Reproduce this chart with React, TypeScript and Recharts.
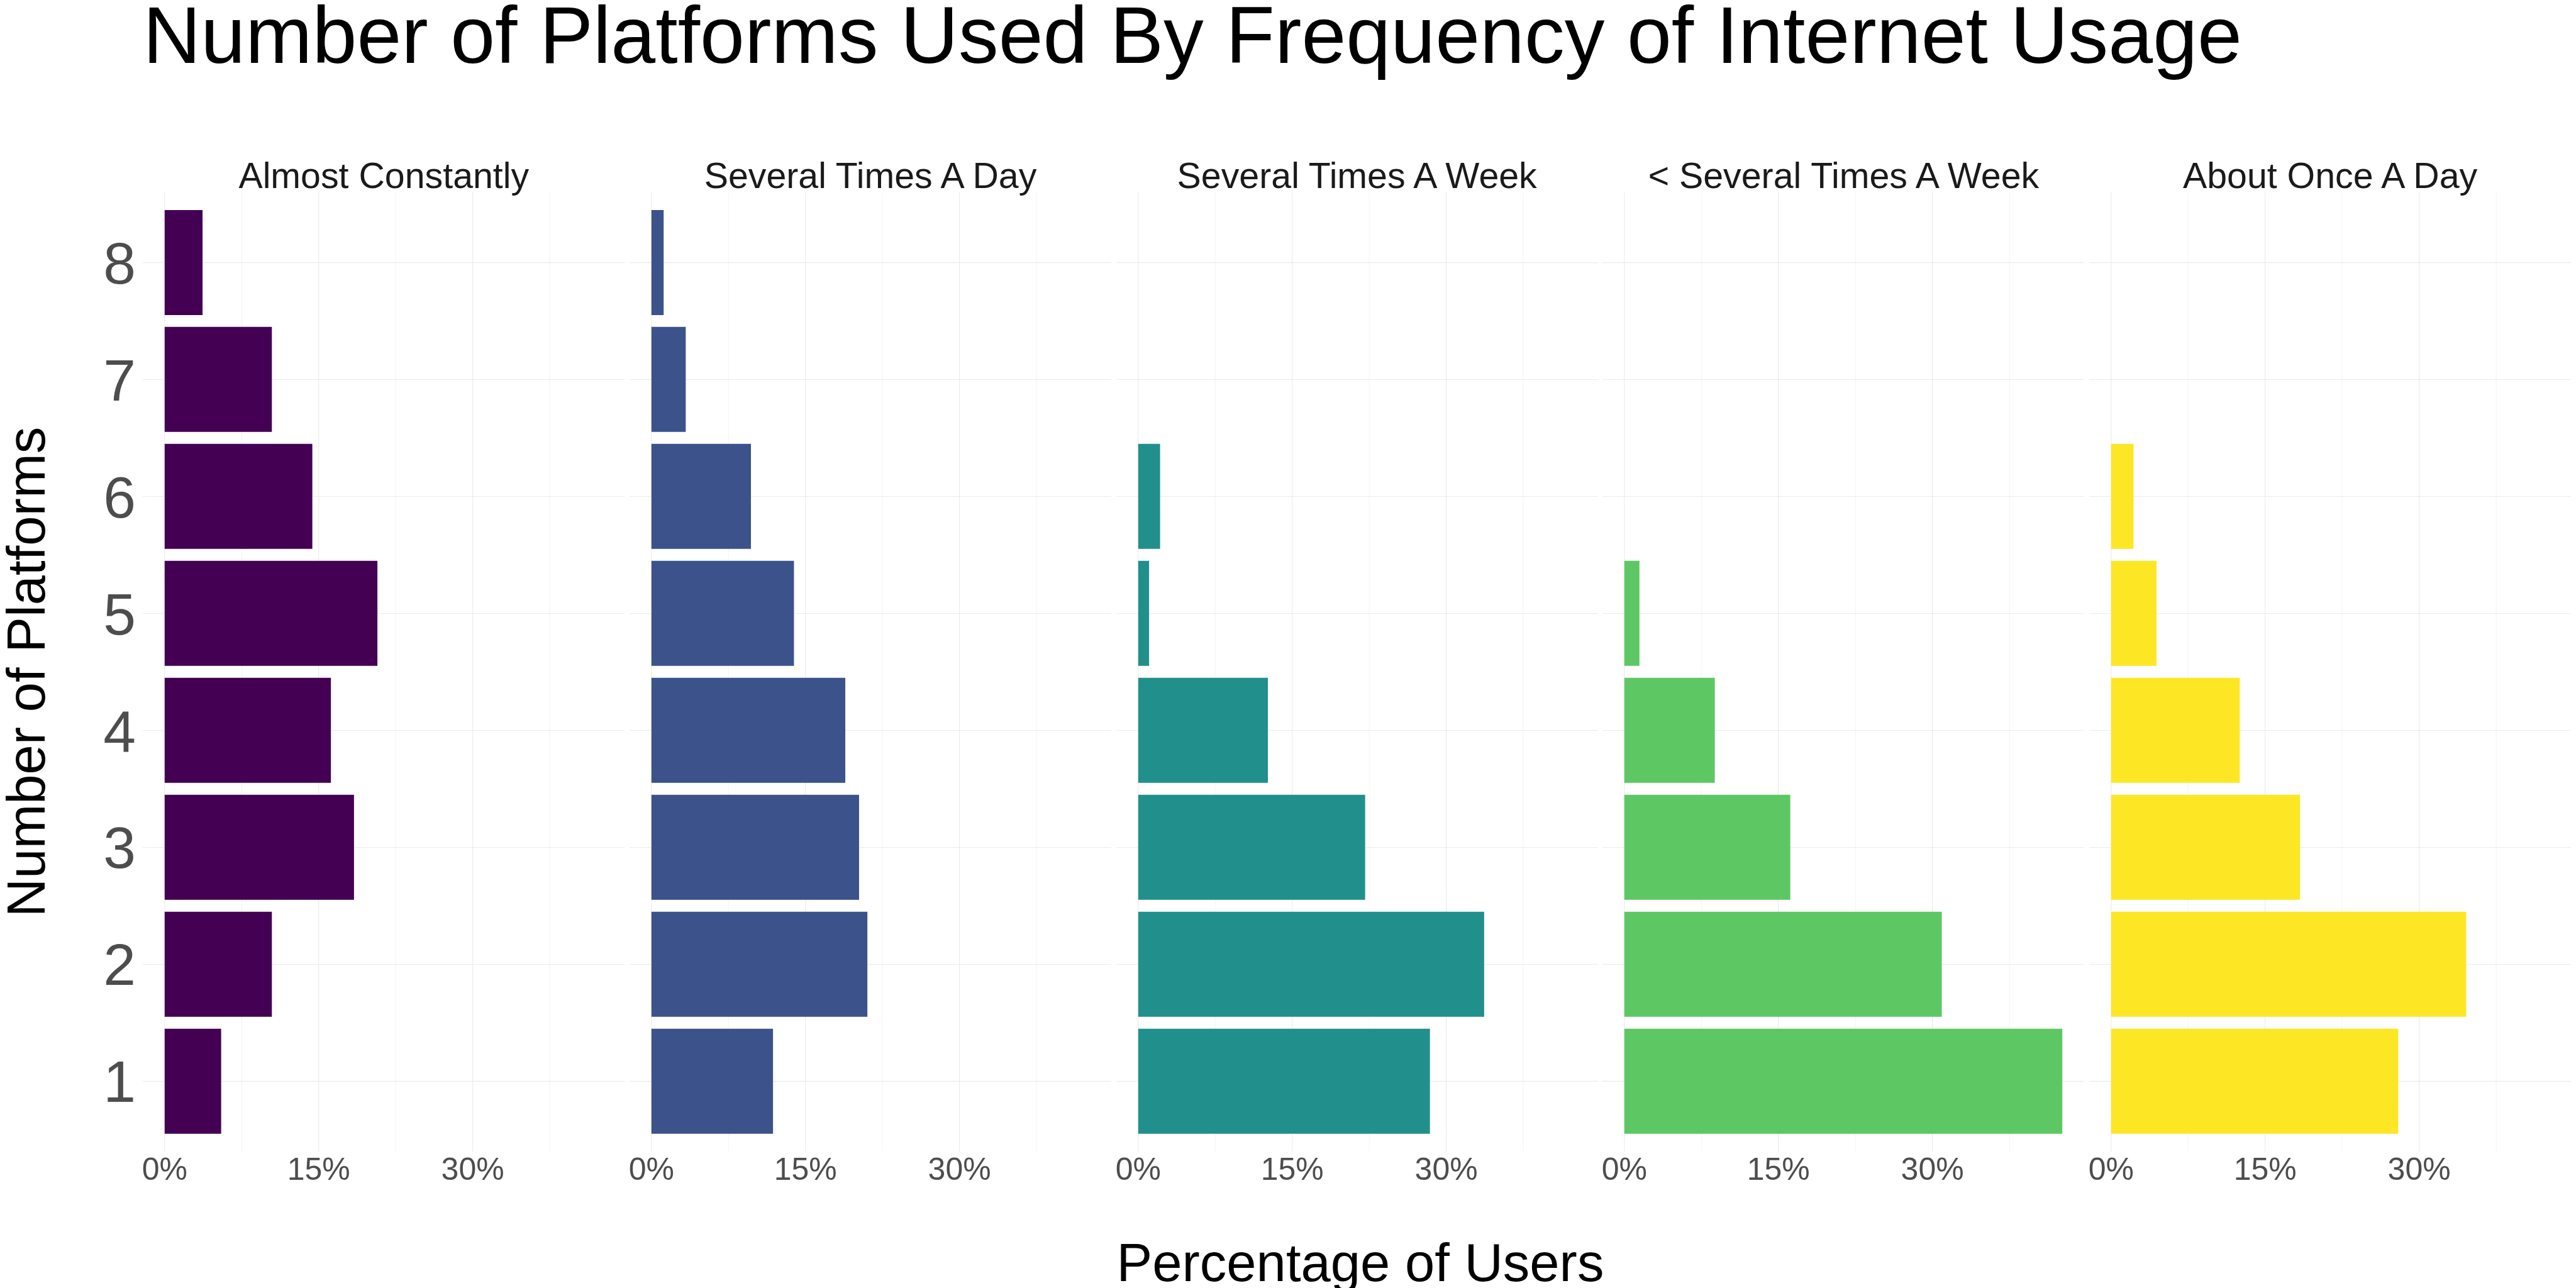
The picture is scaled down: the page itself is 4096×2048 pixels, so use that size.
import React from "react";
import { BarChart, Bar, XAxis, YAxis, CartesianGrid } from "recharts";

// number of platforms (category axis), bottom to top
const platforms = ["1", "2", "3", "4", "5", "6", "7", "8"];

const frequencies = [
  "Almost Constantly",
  "Several Times A Day",
  "Several Times A Week",
  "< Several Times A Week",
  "About Once A Day",
];

// share of users, in the order of `platforms`
const almostConstantly = [0.055, 0.1044, 0.1844, 0.1619, 0.2072, 0.1438, 0.1044, 0.0369];
const severalADay = [0.1184, 0.2103, 0.2022, 0.1888, 0.1388, 0.0969, 0.0334, 0.0119];
const severalAWeek = [0.2841, 0.3369, 0.221, 0.1263, 0.0106, 0.0213, null, null];
const lessThanWeekly = [0.4265, 0.3091, 0.1616, 0.0881, 0.0147, null, null, null];
const onceADay = [0.2796, 0.3458, 0.184, 0.1253, 0.0442, 0.0218, null, null];

const series = [almostConstantly, severalADay, severalAWeek, lessThanWeekly, onceADay];

const colors = ["#440154", "#3B528B", "#21908C", "#5DC863", "#FDE725"];

const xTicks = [0, 0.15, 0.3];
const minorTicks = [0.075, 0.225, 0.375];

const FONT = "'Liberation Sans', Arial, Helvetica, sans-serif";
const GRID = "#EBEBEB";

const PANEL_TOP = 306;
const PANEL_H = 1525;
const PANEL_W = 766;
const PANEL_LEFT = 227.3;
const PANEL_STEP = 773.7;
const X_AXIS_H = 80;
const Y_AXIS_W = 200;

// ggplot-style expansion: 5% on the continuous axis, 0.6 units on the discrete one
const allValues = series.flat().filter((v): v is number => v != null);
const maxVal = Math.max(...allValues);
const xDomain = [-maxVal * 0.05, maxVal * 1.05];
const catPad = (PANEL_H * 0.1) / (platforms.length + 0.2);

const pct = (v: number) => `${Math.round(v * 100)}%`;

function Panel({ index }: { index: number }) {
  const data = platforms.map((p, i) => ({ n: p, share: series[index][i] }));
  const first = index === 0;
  const yw = first ? Y_AXIS_W : 0;
  const left = PANEL_LEFT + index * PANEL_STEP - yw;

  return (
    <div style={{ position: "absolute", left, top: PANEL_TOP }}>
      <BarChart
        layout="vertical"
        width={PANEL_W + yw}
        height={PANEL_H + X_AXIS_H}
        data={data}
        margin={{ top: 0, right: 0, bottom: 0, left: 0 }}
        barCategoryGap="5%"
      >
        <CartesianGrid
          xAxisId="minor"
          horizontal={false}
          syncWithTicks
          stroke={GRID}
          strokeWidth={0.6}
        />
        <CartesianGrid syncWithTicks stroke={GRID} strokeWidth={1.1} />
        <XAxis
          xAxisId="minor"
          type="number"
          domain={xDomain}
          allowDataOverflow
          ticks={minorTicks}
          hide
        />
        <XAxis
          type="number"
          domain={xDomain}
          allowDataOverflow
          ticks={xTicks}
          interval={0}
          tickFormatter={pct}
          axisLine={false}
          tickLine={false}
          tickSize={0}
          tickMargin={9}
          height={X_AXIS_H}
          tick={{ fontSize: 50, fill: "#4D4D4D", fontFamily: FONT }}
        />
        <YAxis
          type="category"
          dataKey="n"
          reversed
          hide={!first}
          width={Y_AXIS_W}
          interval={0}
          axisLine={false}
          tickLine={false}
          tickSize={0}
          tickMargin={11}
          padding={{ top: catPad, bottom: catPad }}
          tick={{ fontSize: 93, fill: "#4D4D4D", fontFamily: FONT }}
        />
        <Bar dataKey="share" fill={colors[index]} isAnimationActive={false} />
      </BarChart>
    </div>
  );
}

export default function App() {
  return (
    <div
      style={{
        position: "absolute",
        left: 0,
        top: 0,
        width: 4096,
        height: 2048,
        background: "#fff",
        fontFamily: FONT,
      }}
    >
      {frequencies.map((f, i) => (
        <Panel key={f} index={i} />
      ))}
      <svg
        width={4096}
        height={2048}
        style={{ position: "absolute", left: 0, top: 0, pointerEvents: "none" }}
        fontFamily={FONT}
      >
        <text x={PANEL_LEFT} y={100} fontSize={127.5} fill="#000">
          Number of Platforms Used By Frequency of Internet Usage
        </text>
        {frequencies.map((f, i) => (
          <text
            key={f}
            x={PANEL_LEFT + i * PANEL_STEP + PANEL_W / 2}
            y={299}
            fontSize={57.3}
            fill="#1A1A1A"
            textAnchor="middle"
          >
            {f}
          </text>
        ))}
        <text
          transform={`translate(70.7, ${PANEL_TOP + PANEL_H / 2}) rotate(-90)`}
          fontSize={85}
          fill="#000"
          textAnchor="middle"
        >
          Number of Platforms
        </text>
        <text x={2163} y={2037} fontSize={85} fill="#000" textAnchor="middle">
          Percentage of Users
        </text>
      </svg>
    </div>
  );
}
